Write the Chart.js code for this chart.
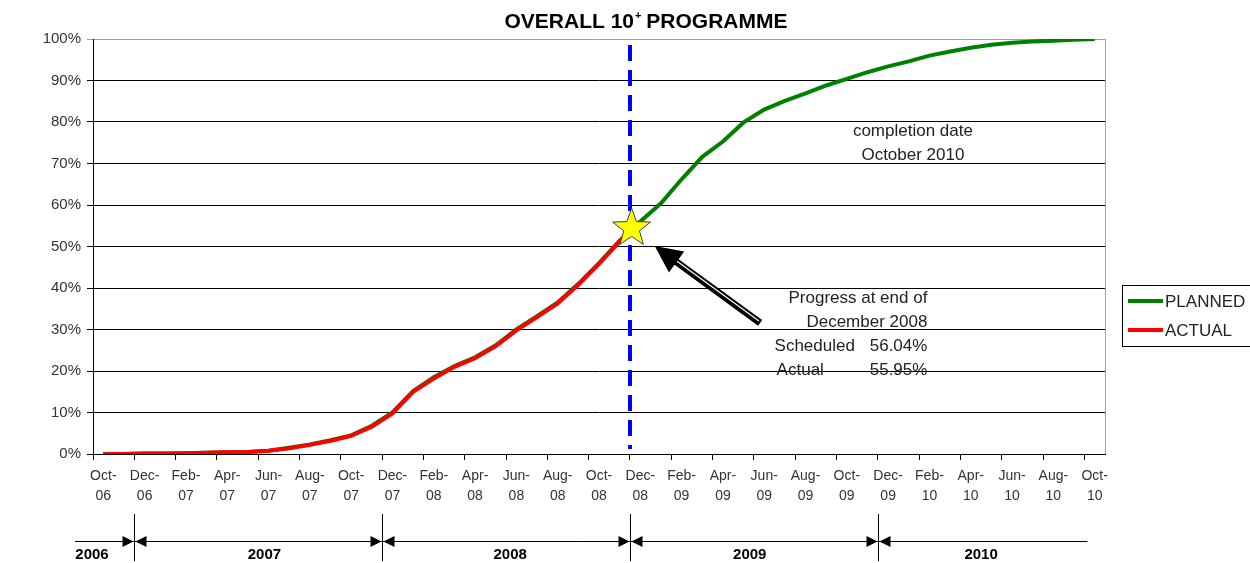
<!DOCTYPE html>
<html>
<head>
<meta charset="utf-8">
<title>Overall 10+ Programme</title>
<script src="https://cdn.jsdelivr.net/npm/chart.js@4.4.1/dist/chart.umd.min.js"></script>
<style>
  html, body { margin: 0; padding: 0; background: #fff; }
  #wrap { width: 1250px; height: 563px; }
</style>
</head>
<body>
<div id="wrap"><canvas id="progressChart" width="1250" height="563"></canvas></div>
<script>
// monthly categories, Oct-06 .. Oct-10
const months = [
  'Oct-06', 'Nov-06', 'Dec-06', 'Jan-07', 'Feb-07', 'Mar-07', 'Apr-07', 'May-07', 'Jun-07', 'Jul-07',
  'Aug-07', 'Sep-07', 'Oct-07', 'Nov-07', 'Dec-07', 'Jan-08', 'Feb-08', 'Mar-08', 'Apr-08', 'May-08',
  'Jun-08', 'Jul-08', 'Aug-08', 'Sep-08', 'Oct-08', 'Nov-08', 'Dec-08', 'Jan-09', 'Feb-09', 'Mar-09',
  'Apr-09', 'May-09', 'Jun-09', 'Jul-09', 'Aug-09', 'Sep-09', 'Oct-09', 'Nov-09', 'Dec-09', 'Jan-10',
  'Feb-10', 'Mar-10', 'Apr-10', 'May-10', 'Jun-10', 'Jul-10', 'Aug-10', 'Sep-10', 'Oct-10'
];

// cumulative progress, %
const planned = [
  0, 0, 0.1, 0.1, 0.2, 0.3, 0.4, 0.5, 0.8, 1.5,
  2.3, 3.3, 4.5, 6.8, 10.0, 15.2, 18.5, 21.2, 23.3, 26.2,
  30.0, 33.2, 36.5, 41.0, 46.0, 51.4, 56.04, 60.4, 66.2, 71.6,
  75.3, 79.9, 83.0, 85.1, 86.9, 88.8, 90.4, 92.0, 93.4, 94.6,
  96.0, 97.0, 97.9, 98.6, 99.1, 99.4, 99.6, 99.8, 100
];
const actual = [
  0, 0, 0.1, 0.1, 0.2, 0.3, 0.4, 0.5, 0.8, 1.4,
  2.2, 3.2, 4.4, 6.6, 9.8, 15.0, 18.2, 21.0, 23.1, 26.0,
  29.8, 33.0, 36.3, 40.8, 45.8, 51.2, 55.95
];

const yearLabels = ['2006', '2007', '2008', '2009', '2010'];
const yearBreaks = [1.5, 13.5, 25.5, 37.5];        // category boundaries between years
const yearLabelAt = [-0.55, 7.8, 19.7, 31.3, 42.5];

const reportIndex = 25.5;          // start of December 2008
const star = { index: 25.58, value: 54.4 };
const arrow = { from: [31.8, 31.6], to: [26.7, 50.1] };

const progressNote = ['Progress at end of', 'December 2008'];
const scheduledPct = '56.04%';
const actualPct = '55.95%';
const completionNote = ['completion date', 'October 2010'];

const FONT = '"Liberation Sans", Arial, sans-serif';
Chart.defaults.font.family = FONT;

function drawStar(ctx, cx, cy, outer, inner) {
  ctx.beginPath();
  for (let i = 0; i < 10; i++) {
    const r = i % 2 === 0 ? outer : inner;
    const a = -Math.PI / 2 + i * Math.PI / 5;
    const px = cx + r * Math.cos(a), py = cy + r * Math.sin(a);
    if (i === 0) ctx.moveTo(px, py); else ctx.lineTo(px, py);
  }
  ctx.closePath();
  ctx.fillStyle = '#ffff00';
  ctx.fill();
  ctx.strokeStyle = '#404040';
  ctx.lineWidth = 1;
  ctx.stroke();
}

function drawArrow(ctx, sx, sy, tx, ty) {
  const len = Math.hypot(tx - sx, ty - sy);
  const dx = (tx - sx) / len, dy = (ty - sy) / len;
  const nx = -dy, ny = dx;
  const headLen = 27, headW = 13, shaftW = 3.5;
  const bx = tx - dx * headLen, by = ty - dy * headLen;
  ctx.beginPath();
  ctx.moveTo(sx + nx * shaftW, sy + ny * shaftW);
  ctx.lineTo(bx + nx * shaftW, by + ny * shaftW);
  ctx.lineTo(bx + nx * headW, by + ny * headW);
  ctx.lineTo(tx, ty);
  ctx.lineTo(bx - nx * headW, by - ny * headW);
  ctx.lineTo(bx - nx * shaftW, by - ny * shaftW);
  ctx.lineTo(sx - nx * shaftW, sy - ny * shaftW);
  ctx.closePath();
  ctx.fillStyle = '#000';
  ctx.fill();
  // light inner stroke, like the Excel shape
  ctx.strokeStyle = '#fff';
  ctx.lineWidth = 1.2;
  ctx.beginPath();
  ctx.moveTo(sx + nx * 0.8 + dx * 2, sy + ny * 0.8 + dy * 2);
  ctx.lineTo(bx + nx * 0.8, by + ny * 0.8);
  ctx.stroke();
}

const overlay = {
  id: 'overlay',
  afterDatasetsDraw(chart) {
    const { ctx, chartArea: area, scales: { x, y } } = chart;
    ctx.save();
    // plot area right border
    ctx.strokeStyle = '#a0a0a0';
    ctx.lineWidth = 1;
    ctx.beginPath();
    ctx.moveTo(Math.round(area.right) + 0.5, area.top);
    ctx.lineTo(Math.round(area.right) + 0.5, area.bottom);
    ctx.stroke();

    // report date marker
    const cx = x.getPixelForValue(reportIndex);
    ctx.strokeStyle = '#0000ff';
    ctx.lineWidth = 4;
    ctx.setLineDash([16, 9]);
    ctx.beginPath();
    ctx.moveTo(cx, area.top + 6);
    ctx.lineTo(cx, area.bottom - 5);
    ctx.stroke();
    ctx.setLineDash([]);

    drawArrow(ctx,
      x.getPixelForValue(arrow.from[0]), y.getPixelForValue(arrow.from[1]),
      x.getPixelForValue(arrow.to[0]), y.getPixelForValue(arrow.to[1]));
    drawStar(ctx, x.getPixelForValue(star.index), y.getPixelForValue(star.value), 20, 8.2);
    ctx.restore();
  },
  afterDraw(chart) {
    const { ctx, chartArea: area, scales: { x, y } } = chart;
    ctx.save();
    ctx.fillStyle = '#222';
    ctx.textBaseline = 'middle';

    // notes
    ctx.font = '17px ' + FONT;
    ctx.textAlign = 'center';
    const noteX = x.getPixelForValue(39.2);
    ctx.fillText(completionNote[0], noteX, y.getPixelForValue(77.8));
    ctx.fillText(completionNote[1], noteX, y.getPixelForValue(72.0));

    const rightX = x.getPixelForValue(39.9);
    ctx.textAlign = 'right';
    ctx.fillText(progressNote[0], rightX, y.getPixelForValue(37.6));
    ctx.fillText(progressNote[1], rightX, y.getPixelForValue(31.8));
    ctx.fillText(scheduledPct, rightX, y.getPixelForValue(26.0));
    ctx.fillText(actualPct, rightX, y.getPixelForValue(20.2));
    ctx.textAlign = 'left';
    ctx.fillText('Scheduled', x.getPixelForValue(32.5), y.getPixelForValue(26.0));
    ctx.fillText('Actual', x.getPixelForValue(32.6), y.getPixelForValue(20.2));

    // legend
    const lx = area.right + 17, ly = 285;
    ctx.strokeStyle = '#000';
    ctx.lineWidth = 1;
    ctx.strokeRect(Math.round(lx) + 0.5, ly + 0.5, 140, 61);
    ctx.font = '17px ' + FONT;
    chart.data.datasets.forEach((ds, i) => {
      const rowY = ly + 16 + i * 29;
      ctx.strokeStyle = ds.borderColor;
      ctx.lineWidth = 4;
      ctx.beginPath();
      ctx.moveTo(lx + 6, rowY);
      ctx.lineTo(lx + 41, rowY);
      ctx.stroke();
      ctx.fillStyle = '#222';
      ctx.fillText(ds.label, lx + 43, rowY + 1);
    });

    // year band under the axis
    const bandY = 541;
    const bandL = area.left - 18, bandR = x.getPixelForValue(47.65);
    ctx.strokeStyle = '#000';
    ctx.fillStyle = '#000';
    ctx.lineWidth = 1;
    ctx.beginPath();
    ctx.moveTo(bandL, bandY + 0.5);
    ctx.lineTo(bandR, bandY + 0.5);
    ctx.stroke();
    yearBreaks.forEach(b => {
      const bx = Math.round(x.getPixelForValue(b)) + 0.5;
      ctx.beginPath();
      ctx.moveTo(bx, 514);
      ctx.lineTo(bx, 561);
      ctx.stroke();
      ctx.beginPath();
      ctx.moveTo(bx - 1, bandY + 0.5);
      ctx.lineTo(bx - 12, bandY - 5);
      ctx.lineTo(bx - 12, bandY + 6);
      ctx.closePath();
      ctx.moveTo(bx + 1, bandY + 0.5);
      ctx.lineTo(bx + 12, bandY - 5);
      ctx.lineTo(bx + 12, bandY + 6);
      ctx.closePath();
      ctx.fill();
    });
    ctx.font = 'bold 15px ' + FONT;
    ctx.textAlign = 'center';
    yearLabels.forEach((lab, i) => {
      ctx.fillText(lab, x.getPixelForValue(yearLabelAt[i]), 555);
    });

    // title with superscript +
    const t1 = 'OVERALL 10', sup = '+', t2 = ' PROGRAMME';
    const big = 'bold 21px ' + FONT;
    const small = 'bold 11px ' + FONT;
    ctx.textAlign = 'left';
    ctx.textBaseline = 'alphabetic';
    ctx.font = big;
    const w1 = ctx.measureText(t1).width, w3 = ctx.measureText(t2).width;
    ctx.font = small;
    const w2 = ctx.measureText(sup).width;
    const tx = 646 - (w1 + w2 + w3) / 2;
    ctx.font = big;
    ctx.fillText(t1, tx, 28);
    ctx.font = small;
    ctx.fillText(sup, tx + w1 + 1, 19);
    ctx.font = big;
    ctx.fillText(t2, tx + w1 + w2, 28);
    ctx.restore();
  }
};

const ctx = document.getElementById('progressChart').getContext('2d');
new Chart(ctx, {
  type: 'line',
  data: {
    labels: months,
    datasets: [
      {
        label: 'PLANNED',
        data: planned,
        borderColor: '#008000',
        backgroundColor: '#008000',
        borderWidth: 4,
        pointRadius: 0,
        tension: 0,
        order: 1
      },
      {
        label: 'ACTUAL',
        data: actual,
        borderColor: '#ff0000',
        backgroundColor: '#ff0000',
        borderWidth: 4,
        pointRadius: 0,
        tension: 0,
        order: 0
      }
    ]
  },
  options: {
    responsive: false,
    animation: false,
    devicePixelRatio: 1,
    layout: { padding: { top: 39, right: 145, bottom: 0, left: 0 } },
    plugins: {
      legend: { display: false },
      title: { display: false },
      tooltip: { enabled: false }
    },
    scales: {
      x: {
        offset: true,
        grid: {
          offset: true,
          drawOnChartArea: false,
          tickLength: 6,
          color: c => (c.index % 2 === 0 ? '#000' : 'rgba(0,0,0,0)')
        },
        border: { color: '#000' },
        ticks: {
          autoSkip: false,
          maxRotation: 0,
          minRotation: 0,
          padding: 6,
          color: '#333',
          font: { size: 14, lineHeight: 1.45 },
          callback: (val, i) => {
            if (i % 2) return '';
            const parts = months[i].split('-');
            return [parts[0] + '-', parts[1]];
          }
        },
        afterFit: s => { s.height = 109; }
      },
      y: {
        min: 0,
        max: 100,
        grid: {
          tickLength: 6,
          color: c => (c.tick && c.tick.value === 100 ? '#a0a0a0' : '#000')
        },
        border: { color: '#000' },
        ticks: {
          stepSize: 10,
          padding: 6,
          color: '#333',
          font: { size: 15 },
          callback: v => v + '%'
        },
        afterFit: s => { s.width = 93; }
      }
    }
  },
  plugins: [overlay]
});
</script>
</body>
</html>
